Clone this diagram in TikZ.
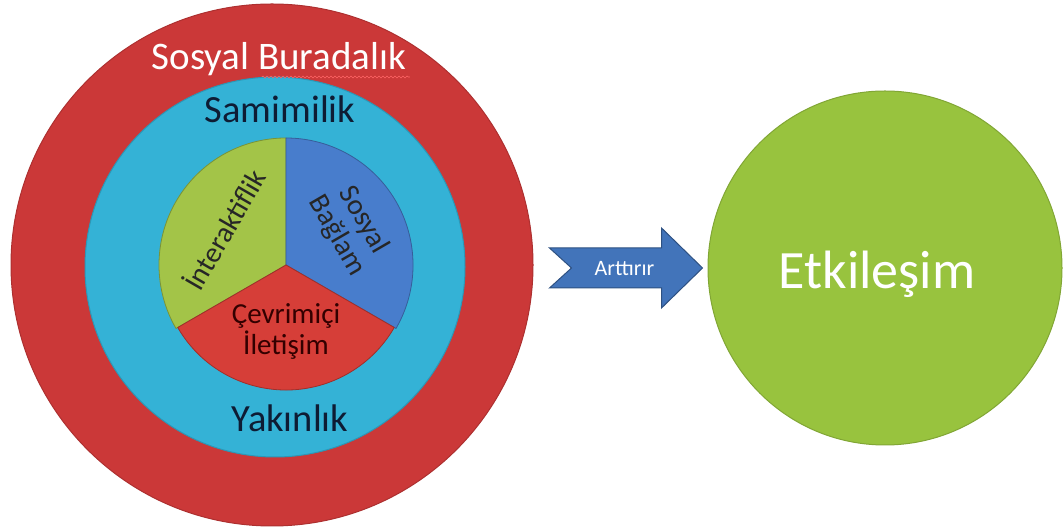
\documentclass[tikz,border=0pt]{standalone}
\usepackage{fontspec}
\setmainfont{Carlito}
\usepackage{tikz}
\usetikzlibrary{positioning,decorations.pathmorphing}

\definecolor{disKirmizi}{RGB}{203,56,56}
\definecolor{ortaMavi}{RGB}{52,178,214}
\definecolor{dilimYesil}{RGB}{163,196,72}
\definecolor{dilimMavi}{RGB}{72,125,204}
\definecolor{dilimKirmizi}{RGB}{214,62,56}
\definecolor{sonYesil}{RGB}{152,195,62}
\definecolor{okMavi}{RGB}{66,116,186}
\definecolor{lacivert}{RGB}{14,28,52}

\tikzset{
  halka/.style={circle,inner sep=0pt,fill=#1,draw=#1!85!black,line width=1pt},
  dilim/.style={fill=#1,draw=#1!75!black,line width=0.8pt,line join=round},
  etiket/.style={text=lacivert,font=\fontsize{38.5}{42}\selectfont},
  dilimyazi/.style={text=black!85,font=\fontsize{29}{31}\selectfont,align=center,inner sep=0pt}
}

\begin{document}
\begin{tikzpicture}[x=1pt,y=1pt]
\useasboundingbox (0,0) rectangle (1063,532);

% halkalar
\node[halka=disKirmizi,minimum size=522pt] (buradalik) at (272,267) {};
\node[halka=ortaMavi,minimum size=380pt] (samimilik) at (275,265) {};
\coordinate (merkez) at (286,267);

% pasta dilimleri
\draw[dilim=dilimYesil] (merkez) -- ++(90:127) arc[start angle=90,end angle=210,radius=127] -- cycle;
\draw[dilim=dilimMavi] (merkez) -- ++(-30:127) arc[start angle=-30,end angle=90,radius=127] -- cycle;
\draw[dilim=dilimKirmizi] (merkez) -- ++(210:125) arc[start angle=210,end angle=330,radius=125] -- cycle;

\node[dilimyazi,rotate=60] (interaktif) at ([shift={(150:72)}]merkez) {İnteraktiflik};
\node[dilimyazi,rotate=-60] (baglam) at ([shift={(30:74)}]merkez) {Sosyal\\Bağlam};
\node[dilimyazi,text=black!80!red] (iletisim) at ([shift={(270:66)}]merkez) {Çevrimiçi\\İletişim};

% halka etiketleri
\node[etiket,text=white,anchor=base,font=\fontsize{39}{42}\selectfont] (dis) at (279,462) {Sosyal Buradalık};
\draw[red!60!white,line width=0.6pt,decorate,decoration={snake,amplitude=1pt,segment length=4pt}]
  ([xshift=-148pt,yshift=-7pt]dis.base east) -- ([yshift=-7pt]dis.base east);
\node[etiket,anchor=base] (orta) at (280,409) {Samimilik};
\node[etiket,anchor=base] (yakin) at (290,100) {Yakınlık};

% sonuc
\node[halka=sonYesil,minimum size=354pt] (etkilesim) at (885,264) {};
\node[text=white,font=\fontsize{54}{58}\selectfont,anchor=base] (etk) at (877,243) {Etkileşim};

% ok
\coordinate (uc) at ([xshift=-5pt]etkilesim.west);
\draw[fill=okMavi,draw=okMavi!70!black,line width=1pt,line join=miter]
  ([shift={(-153,20)}]uc) -- ([shift={(-41,20)}]uc) -- ([shift={(-41,40)}]uc) -- (uc)
  -- ([shift={(-41,-40)}]uc) -- ([shift={(-41,-20)}]uc) -- ([shift={(-153,-20)}]uc)
  -- ([shift={(-131,0)}]uc) -- cycle;
\node[text=white,font=\fontsize{22}{24}\selectfont,anchor=base] (arttirir) at ([shift={(-78,-8)}]uc) {Arttırır};
\end{tikzpicture}
\end{document}
